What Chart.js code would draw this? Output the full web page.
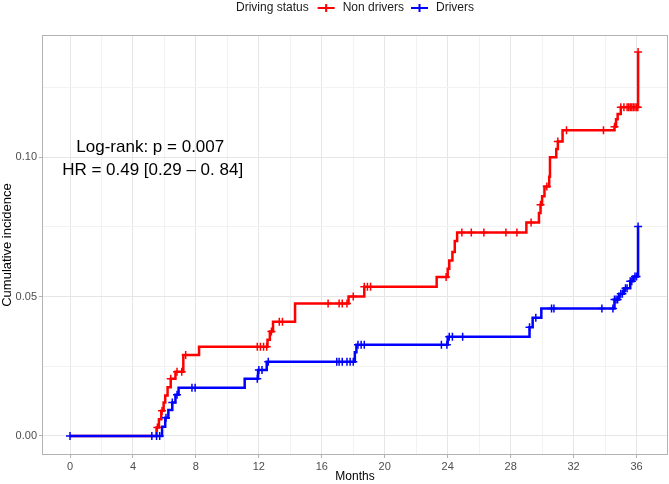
<!DOCTYPE html>
<html>
<head>
<meta charset="utf-8">
<script src="https://cdn.jsdelivr.net/npm/chart.js@4"></script>
<style>
    html, body { margin: 0; padding: 0; background: #fff; }
    #wrap { width: 669px; height: 484px; }
</style>
</head>
<body>
<div id="wrap"><canvas id="kmChart" width="669" height="484"></canvas></div>
<script>
// Non drivers: step times (months) and cumulative incidence after each step
const nonDriverTimes = [0, 5.5, 5.65, 5.8, 5.95, 6.05, 6.2, 6.4, 6.7, 7.2, 8.2, 12.55, 12.7, 12.9, 14.3, 17.7, 18.7,
    23.3, 24.0, 24.1, 24.3, 24.45, 24.6, 29.0, 29.8, 29.9, 30.0, 30.15, 30.45, 30.5, 30.9, 31.0, 31.3,
    34.6, 34.7, 34.8, 35.0, 36.1];
const nonDriverValues = [0, 0.003, 0.006, 0.009, 0.012, 0.0145, 0.0175, 0.0205, 0.023, 0.029, 0.032, 0.0345, 0.0375, 0.041, 0.0475, 0.050, 0.0535,
    0.057, 0.060, 0.063, 0.066, 0.070, 0.073, 0.0766, 0.080, 0.083, 0.086, 0.0895, 0.093, 0.100, 0.103, 0.1057, 0.1097,
    0.111, 0.1137, 0.1155, 0.118, 0.1378];
const nonDriverCensored = [5.55, 5.85, 6.4, 6.8, 7.1, 7.35, 11.9, 12.1, 12.3, 12.5, 12.8, 13.3, 13.5, 16.4, 17.1, 17.3, 17.6,
    18.0, 18.7, 18.9, 19.1, 23.9, 24.9, 25.5, 26.3, 27.7, 28.4, 29.3, 29.9, 30.3, 31.0, 31.55, 33.9, 34.6,
    35.0, 35.2, 35.4, 35.5, 35.6, 35.7, 35.8, 35.9, 36.0, 36.08, 36.1];

// Drivers
const driverTimes = [0, 5.85, 6.05, 6.25, 6.5, 6.7, 6.9, 11.1, 11.95, 12.5, 18.1, 18.2, 24.0, 29.2, 29.4, 29.95,
    34.6, 34.9, 35.2, 35.6, 35.8, 36.1];
const driverValues = [0, 0.0033, 0.0065, 0.0093, 0.012, 0.0148, 0.0173, 0.0205, 0.0237, 0.0266, 0.030, 0.0327, 0.0356, 0.039, 0.0424, 0.0457,
    0.049, 0.051, 0.053, 0.0555, 0.0572, 0.0752];
const driverCensored = [0, 5.2, 5.5, 5.7, 6.1, 6.5, 6.8, 7.75, 7.95, 11.9, 12.0, 12.2, 12.6, 16.95, 17.1, 17.3, 17.6, 17.8, 18.0,
    18.3, 18.5, 18.7, 23.6, 23.95, 24.1, 24.3, 24.95, 29.2, 29.6, 30.6, 30.75, 33.8, 34.5, 34.6, 34.7, 34.8,
    35.0, 35.1, 35.3, 35.4, 35.6, 35.7, 35.9, 36.0, 36.1];

const xTicks = [0, 2, 4, 6, 8, 10, 12, 14, 16, 18, 20, 22, 24, 26, 28, 30, 32, 34, 36];
const yTicks = [0, 0.025, 0.05, 0.075, 0.10, 0.125];
const legendTitle = 'Driving status';
const seriesNames = ['Non drivers', 'Drivers'];
const annotationLines = ['Log-rank: p = 0.007', 'HR = 0.49 [0.29 \u2013 0. 84]'];

const RED = '#ff0000';
const BLUE = '#0000ff';
const FONT = '"Liberation Sans", Arial, sans-serif';

function levelAt(times, values, t) {
    let v = values[0];
    for (let i = 0; i < times.length; i++) {
        if (times[i] <= t) v = values[i];
    }
    return v;
}
const toPoints = (times, values) => times.map((t, i) => ({x: t, y: values[i]}));
const censorPoints = (cens, times, values) => cens.map(t => ({x: t, y: levelAt(times, values, t)}));

const isMajorX = v => Math.abs(v % 4) < 1e-9;
const isMajorY = v => Math.abs(Math.round(v / 0.05) * 0.05 - v) < 1e-9;

// legend + annotation text + panel border
const extrasPlugin = {
    id: 'extras',
    afterDatasetsDraw(chart) {
        const {ctx, chartArea, scales: {x, y}} = chart;
        ctx.save();
        ctx.strokeStyle = '#b3b3b3';
        ctx.lineWidth = 1;
        ctx.strokeRect(chartArea.left + 0.5, chartArea.top + 0.5,
            chartArea.right - chartArea.left - 1, chartArea.bottom - chartArea.top - 1);

        ctx.fillStyle = '#000';
        ctx.font = '17px ' + FONT;
        ctx.textAlign = 'center';
        ctx.textBaseline = 'middle';
        ctx.fillText(annotationLines[0], x.getPixelForValue(5.1), y.getPixelForValue(0.1035));
        ctx.fillText(annotationLines[1], x.getPixelForValue(5.25), y.getPixelForValue(0.0955));
        ctx.restore();
    },
    afterDraw(chart) {
        const {ctx, chartArea} = chart;
        ctx.save();
        ctx.font = '12px ' + FONT;
        ctx.textBaseline = 'middle';
        ctx.textAlign = 'left';
        ctx.fillStyle = '#1a1a1a';
        const keyW = 17;
        const wTitle = ctx.measureText(legendTitle).width;
        const w0 = ctx.measureText(seriesNames[0]).width;
        const w1 = ctx.measureText(seriesNames[1]).width;
        const total = wTitle + 9 + keyW + 8 + w0 + 7 + keyW + 8 + w1;
        let cx = (chartArea.left + chartArea.right) / 2 - total / 2;
        const cy = 8;
        ctx.fillText(legendTitle, cx, cy);
        cx += wTitle + 9;
        [[RED, seriesNames[0], w0], [BLUE, seriesNames[1], w1]].forEach(([col, name, w]) => {
            ctx.strokeStyle = col;
            ctx.lineWidth = 2;
            ctx.beginPath();
            ctx.moveTo(cx, cy);
            ctx.lineTo(cx + keyW, cy);
            ctx.moveTo(cx + keyW / 2, cy - 4);
            ctx.lineTo(cx + keyW / 2, cy + 4);
            ctx.stroke();
            cx += keyW + 8;
            ctx.fillText(name, cx, cy);
            cx += w + 7;
        });
        ctx.restore();
    }
};

Chart.defaults.font.family = FONT;

new Chart(document.getElementById('kmChart'), {
    type: 'line',
    data: {
        datasets: [
            {
                label: seriesNames[0],
                data: toPoints(nonDriverTimes, nonDriverValues),
                borderColor: RED,
                borderWidth: 2.5,
                stepped: 'before',
                pointRadius: 0,
                fill: false,
                order: 3
            },
            {
                label: seriesNames[0] + ' censored',
                data: censorPoints(nonDriverCensored, nonDriverTimes, nonDriverValues),
                showLine: false,
                pointStyle: 'cross',
                pointRadius: 4,
                pointBorderColor: RED,
                pointBorderWidth: 1.5,
                order: 2
            },
            {
                label: seriesNames[1],
                data: toPoints(driverTimes, driverValues),
                borderColor: BLUE,
                borderWidth: 2.5,
                stepped: 'before',
                pointRadius: 0,
                fill: false,
                order: 1
            },
            {
                label: seriesNames[1] + ' censored',
                data: censorPoints(driverCensored, driverTimes, driverValues),
                showLine: false,
                pointStyle: 'cross',
                pointRadius: 4,
                pointBorderColor: BLUE,
                pointBorderWidth: 1.5,
                order: 0
            }
        ]
    },
    options: {
        responsive: false,
        animation: false,
        devicePixelRatio: 1,
        layout: {autoPadding: false, padding: {top: 35, right: 1, left: 0, bottom: 0}},
        plugins: {
            legend: {display: false},
            tooltip: {enabled: false}
        },
        scales: {
            x: {
                type: 'linear',
                min: -1.78,
                max: 38.0,
                afterBuildTicks: scale => { scale.ticks = xTicks.map(v => ({value: v})); },
                afterFit: scale => {
                    scale.height = 29;
                    scale.paddingLeft = 0;
                    scale.paddingRight = 0;
                },
                border: {display: false},
                grid: {
                    color: ctx => isMajorX(ctx.tick.value) ? '#e6e6e6' : '#f2f2f2',
                    tickColor: ctx => isMajorX(ctx.tick.value) ? '#b3b3b3' : 'rgba(0,0,0,0)',
                    tickLength: 3,
                    lineWidth: 1
                },
                ticks: {
                    autoSkip: false,
                    maxRotation: 0,
                    padding: 2,
                    color: '#4d4d4d',
                    font: {size: 11},
                    callback: v => isMajorX(v) ? String(v) : ''
                },
                title: {
                    display: true,
                    text: 'Months',
                    color: '#000',
                    font: {size: 12},
                    padding: {top: 0, bottom: 0}
                }
            },
            y: {
                type: 'linear',
                min: -0.00685,
                max: 0.1439,
                afterBuildTicks: scale => { scale.ticks = yTicks.map(v => ({value: v})); },
                afterFit: scale => {
                    scale.width = 42;
                    scale.paddingTop = 0;
                    scale.paddingBottom = 0;
                },
                border: {display: false},
                grid: {
                    color: ctx => isMajorY(ctx.tick.value) ? '#e6e6e6' : '#f2f2f2',
                    tickColor: ctx => isMajorY(ctx.tick.value) ? '#b3b3b3' : 'rgba(0,0,0,0)',
                    tickLength: 3,
                    lineWidth: 1
                },
                ticks: {
                    autoSkip: false,
                    padding: 2,
                    color: '#4d4d4d',
                    font: {size: 11},
                    callback: v => isMajorY(v) ? v.toFixed(2) : ''
                },
                title: {
                    display: true,
                    text: 'Cumulative incidence',
                    color: '#000',
                    font: {size: 13},
                    padding: {top: 0, bottom: 0}
                }
            }
        }
    },
    plugins: [extrasPlugin]
});
</script>
</body>
</html>
